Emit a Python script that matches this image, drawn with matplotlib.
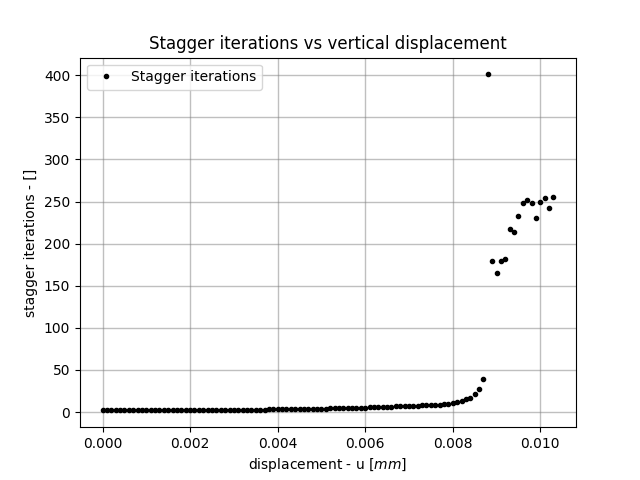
import matplotlib
matplotlib.use('Agg')
import matplotlib.pyplot as plt
import numpy as np

# displacement steps of 1e-4 mm
displacement = np.arange(104) * 1e-4

# stagger iterations per step
iterations = ([2] * 19 + [3] * 19 + [4] * 14 + [5] * 9 + [6] * 6 + [7] * 6
              + [8] * 3 + [9] * 2
              + [10, 10, 11, 12, 13, 15, 17, 21, 27, 39]
              + [401, 179, 165, 180, 182, 218, 214, 233, 248, 252,
                 248, 231, 249, 254, 242, 255])

fig, ax = plt.subplots(figsize=(6.4, 4.8))
ax.plot(displacement, iterations, 'k.', label='Stagger iterations')
ax.set_title('Stagger iterations vs vertical displacement')
ax.set_xlabel('displacement - u [$mm$]')
ax.set_ylabel('stagger iterations - []')
ax.grid(True, color='gray', alpha=0.5, linewidth=1)
ax.legend(loc='upper left')
plt.savefig('out.png', dpi=100)
